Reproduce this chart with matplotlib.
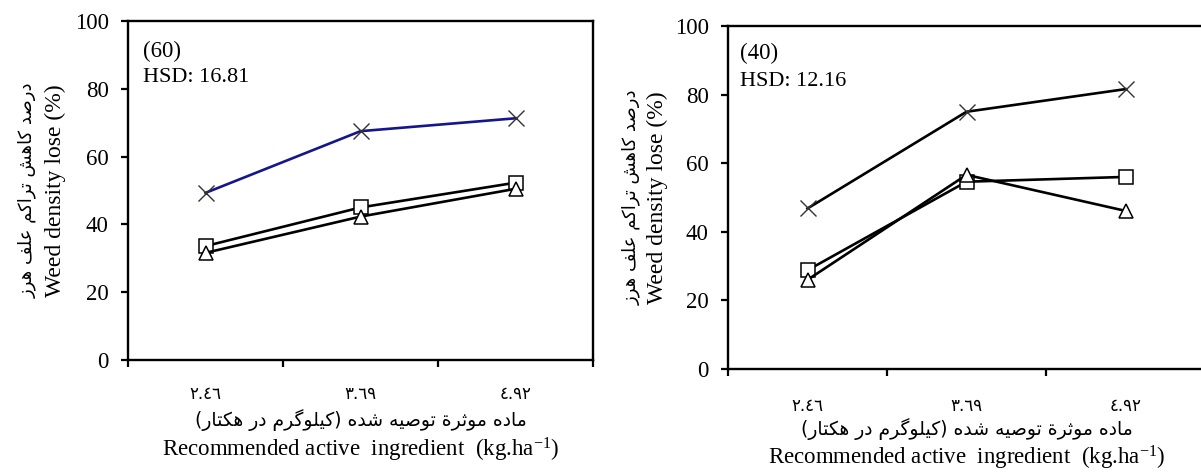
import matplotlib
matplotlib.use("Agg")
import matplotlib.pyplot as plt

# ---------------- data ----------------
categories = ["\u0662.\u0664\u0666", "\u0663.\u0666\u0669", "\u0664.\u0669\u0662"]  # 2.46, 3.69, 4.92

left_tag = "(60)"
left_hsd = "HSD: 16.81"
left_cross = [49.3, 67.5, 71.3]
left_square = [33.6, 45.0, 52.3]
left_triangle = [31.6, 42.3, 50.5]

right_tag = "(40)"
right_hsd = "HSD: 12.16"
right_cross = [46.8, 75.0, 81.6]
right_square = [28.8, 54.6, 56.0]
right_triangle = [26.0, 56.6, 46.1]

yticks = [0, 20, 40, 60, 80, 100]

ylabel_en = "Weed density lose (%)"
ylabel_fa = "درصد کاهش تراکم علف هرز"
xlabel_fa = "ماده موثرة توصیه شده (کیلوگرم در هکتار)"
xlabel_en = "Recommended active  ingredient  (kg.ha$^{-1}$)"

# ------------- minimal Arabic/Persian shaping -------------
FORMS = {
    'ا': ('\uFE8D', '\uFE8E', None, None),
    'ت': ('\uFE95', '\uFE96', '\uFE97', '\uFE98'),
    'ث': ('\uFE99', '\uFE9A', '\uFE9B', '\uFE9C'),
    'د': ('\uFEA9', '\uFEAA', None, None),
    'ر': ('\uFEAD', '\uFEAE', None, None),
    'ز': ('\uFEAF', '\uFEB0', None, None),
    'ش': ('\uFEB5', '\uFEB6', '\uFEB7', '\uFEB8'),
    'ص': ('\uFEB9', '\uFEBA', '\uFEBB', '\uFEBC'),
    'ع': ('\uFEC9', '\uFECA', '\uFECB', '\uFECC'),
    'ف': ('\uFED1', '\uFED2', '\uFED3', '\uFED4'),
    'ل': ('\uFEDD', '\uFEDE', '\uFEDF', '\uFEE0'),
    'م': ('\uFEE1', '\uFEE2', '\uFEE3', '\uFEE4'),
    'ه': ('\uFEE9', '\uFEEA', '\uFEEB', '\uFEEC'),
    'و': ('\uFEED', '\uFEEE', None, None),
    'ة': ('\uFE93', '\uFE94', None, None),
    'ک': ('\uFB8E', '\uFB8F', '\uFEDB', '\uFEDC'),
    'گ': ('\uFB92', '\uFB93', '\uFB94', '\uFB95'),
    'ی': ('\uFBFC', '\uFBFD', '\uFEF3', '\uFEF4'),
}
DUAL = {c for c, f in FORMS.items() if f[2] is not None}


def shape(s):
    out = []
    n = len(s)
    for i, c in enumerate(s):
        if c not in FORMS:
            out.append(c)
            continue
        prev = s[i - 1] if i > 0 else ''
        nxt = s[i + 1] if i + 1 < n else ''
        jp = prev in DUAL
        jn = (c in DUAL) and (nxt in FORMS)
        iso, fin, ini, med = FORMS[c]
        if jp and jn:
            g = med
        elif jp:
            g = fin
        elif jn:
            g = ini
        else:
            g = iso
        out.append(g)
    vis = ''.join(reversed(out))
    return vis.translate(str.maketrans('()', ')('))


SERIF = ['Liberation Serif', 'DejaVu Sans']
ARAB = ['DejaVu Sans']
plt.rcParams['font.family'] = SERIF
plt.rcParams['mathtext.default'] = 'regular'

W, H = 1201, 472
fig = plt.figure(figsize=(W / 100, H / 100), dpi=100)

BLUE = '#16168c'


def panel(rect, tag, hsd, cross, square, tri, cross_color, lab_pad,
          tagpos, hsdpos, ylab_en_x, ylab_fa_x, xfa_y, xen_y):
    ax = fig.add_axes(rect)
    xs = [0.5, 1.5, 2.5]
    ax.plot(xs, cross, color=cross_color, lw=1.9, marker='x', ms=11, mew=1.0,
            mec='#333333', zorder=3)
    ax.plot(xs, square, color='black', lw=1.9, marker='s', ms=9.5, mew=1.1,
            mfc='white', mec='black', zorder=3)
    ax.plot(xs, tri, color='black', lw=1.9, marker='^', ms=10, mew=1.1,
            mfc='white', mec='black', zorder=3)
    ax.set_xlim(0, 3)
    ax.set_ylim(0, 100)
    ax.set_yticks(yticks)
    ax.set_yticklabels([str(v) for v in yticks])
    ax.set_xticks([0, 1, 2, 3])
    ax.set_xticklabels([])
    ax.set_xticks(xs, minor=True)
    ax.set_xticklabels(categories, minor=True, family=ARAB, fontsize=12)
    ax.tick_params(which='major', direction='out', length=5, width=1.6,
                   labelsize=16.5, pad=9)
    ax.tick_params(which='minor', axis='x', length=0, pad=lab_pad)
    for sp in ax.spines.values():
        sp.set_linewidth(1.7)
        sp.set_color('black')
    ax.text(tagpos[0], tagpos[1], tag, transform=ax.transAxes, fontsize=16.5,
            va='baseline', ha='left')
    ax.text(hsdpos[0], hsdpos[1], hsd, transform=ax.transAxes, fontsize=16,
            va='baseline', ha='left')
    # y labels
    ycen = rect[1] + rect[3] / 2
    fig.text(ylab_en_x / W, ycen, ylabel_en, rotation=90, ha='center',
             va='center', fontsize=17)
    fig.text(ylab_fa_x / W, ycen, shape(ylabel_fa), rotation=90, ha='center',
             va='center', fontsize=13, family=ARAB)
    # x labels (centred on middle category)
    xc = rect[0] + rect[2] * 0.5
    fig.text(xc, 1 - xfa_y / H, shape(xlabel_fa), ha='center', va='center',
             fontsize=13.5, family=ARAB)
    fig.text(xc, 1 - xen_y / H, xlabel_en, ha='center', va='baseline',
             fontsize=16.5)
    return ax


panel([128 / W, 1 - 360 / H, (593 - 128) / W, (360 - 21) / H],
      left_tag, left_hsd, left_cross, left_square, left_triangle, BLUE, 18,
      (0.032, 0.895), (0.032, 0.820), 55, 27, 420, 457)

panel([728 / W, 1 - 369 / H, (1205 - 728) / W, (369 - 26) / H],
      right_tag, right_hsd, right_cross, right_square, right_triangle, 'black', 20,
      (0.025, 0.903), (0.025, 0.826), 657, 631, 429, 464)

fig.savefig('out.png', dpi=100)
